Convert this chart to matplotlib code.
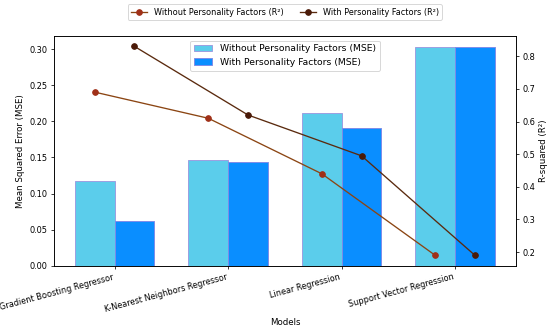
import numpy as np
import matplotlib
matplotlib.use("Agg")
import matplotlib.pyplot as plt

# Data
models = ["Gradient Boosting Regressor", "K-Nearest Neighbors Regressor",
          "Linear Regression", "Support Vector Regression"]
mse_without = [0.117, 0.147, 0.211, 0.303]
mse_with = [0.062, 0.144, 0.191, 0.303]
r2_without = [0.69, 0.61, 0.44, 0.19]
r2_with = [0.83, 0.62, 0.495, 0.19]

DPI = 68
plt.rcParams["font.size"] = 9.2

fig, ax1 = plt.subplots(figsize=(550 / DPI, 327 / DPI), dpi=DPI)
x = np.arange(len(models))
w = 0.35

ax1.bar(x - w / 2, mse_without, w, color="#5BCDEB", edgecolor="#9C9EE0", linewidth=1.0,
        label="Without Personality Factors (MSE)")
ax1.bar(x + w / 2, mse_with, w, color="#0A8EFF", edgecolor="#7E8BE8", linewidth=1.0,
        label="With Personality Factors (MSE)")
ax1.set_xticks(x)
ax1.set_xticklabels(models, rotation=15, ha="right", fontsize=8.6)
ax1.tick_params(axis="y", labelsize=8.8)
ax1.set_xlabel("Models")
ax1.set_ylabel("Mean Squared Error (MSE)")
ax1.legend(loc="upper center", fontsize=9.8)

# R-squared points sit on the centres of the matching bars
ax2 = ax1.twinx()
ax2.plot(x - w / 2, r2_without, color="#8B4513", marker="o", markersize=6, linewidth=1.4,
         markerfacecolor="#A03018", markeredgecolor="#A03018",
         label="Without Personality Factors (R\u00b2)")
ax2.plot(x + w / 2, r2_with, color="#5A2A0E", marker="o", markersize=6, linewidth=1.4,
         markerfacecolor="#4A1A08", markeredgecolor="#4A1A08",
         label="With Personality Factors (R\u00b2)")
ax2.tick_params(axis="y", labelsize=8.8)
ax2.set_ylabel("R-squared (R\u00b2)")
ax2.legend(loc="upper center", bbox_to_anchor=(0.5, 1.155), ncol=2, fontsize=8.6)

fig.subplots_adjust(left=0.098, right=0.938, top=0.89, bottom=0.187)
fig.savefig("out.png", dpi=DPI)
